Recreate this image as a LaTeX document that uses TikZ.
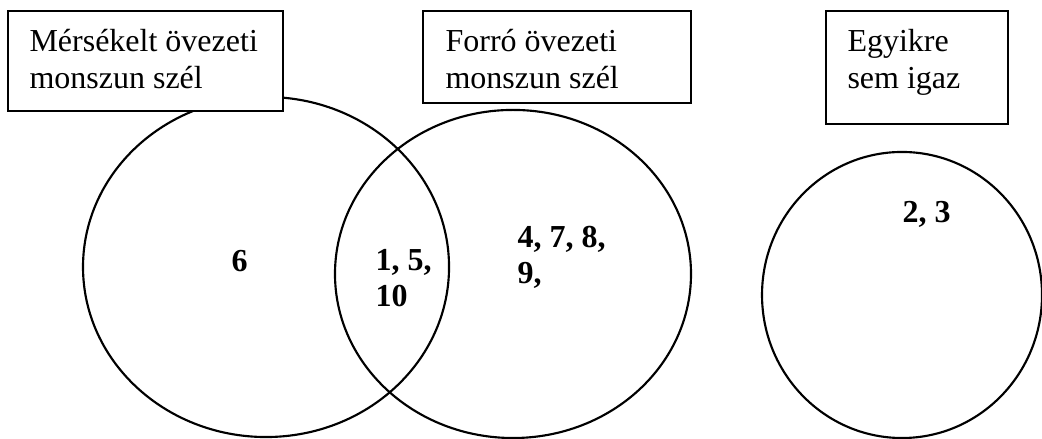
\documentclass[tikz,border=0pt]{standalone}
\usepackage{fontspec}
\setmainfont{Liberation Serif}
\usepackage{tikz}

\tikzset{
    boxtext/.style={anchor=base west, inner sep=0pt, align=left, font=\fontsize{12}{13.5}\selectfont},
    numtext/.style={anchor=base west, inner sep=0pt, align=left, font=\fontsize{12}{13.5}\selectfont\bfseries}
}

\begin{document}
\begin{tikzpicture}

    \useasboundingbox (0,0) rectangle (13.733,5.773);

    \draw[thick] (3.506,2.254) circle [x radius=2.412, y radius=2.241];
    \draw[thick] (6.761,2.162) circle [x radius=2.346, y radius=2.162];
    \draw[thick] (11.888,1.885) circle [x radius=1.845, y radius=1.885];

    \draw[thick, fill=white] (0.105,4.310) rectangle (3.730,5.628);
    \node[boxtext] (mersekelt) at (0.382,4.613) {M\'ers\'ekelt \"ovezeti\\monszun sz\'el};

    \draw[thick, fill=white] (5.575,4.415) rectangle (9.107,5.628);
    \node[boxtext] (forro) at (5.865,4.613) {Forr\'o \"ovezeti\\monszun sz\'el};

    \draw[thick, fill=white] (10.887,4.139) rectangle (13.285,5.628);
    \node[boxtext] (egyikre) at (11.163,4.613) {Egyikre\\sem igaz};

    \node[numtext] (csakmers) at (3.045,2.201) {6};
    \node[numtext] (mindketto) at (4.943,1.727) {1, 5,\\10};
    \node[numtext] (csakforro) at (6.814,2.030) {4, 7, 8,\\9,};
    \node[numtext] (egyiksem) at (11.888,2.834) {2, 3};

\end{tikzpicture}
\end{document}
